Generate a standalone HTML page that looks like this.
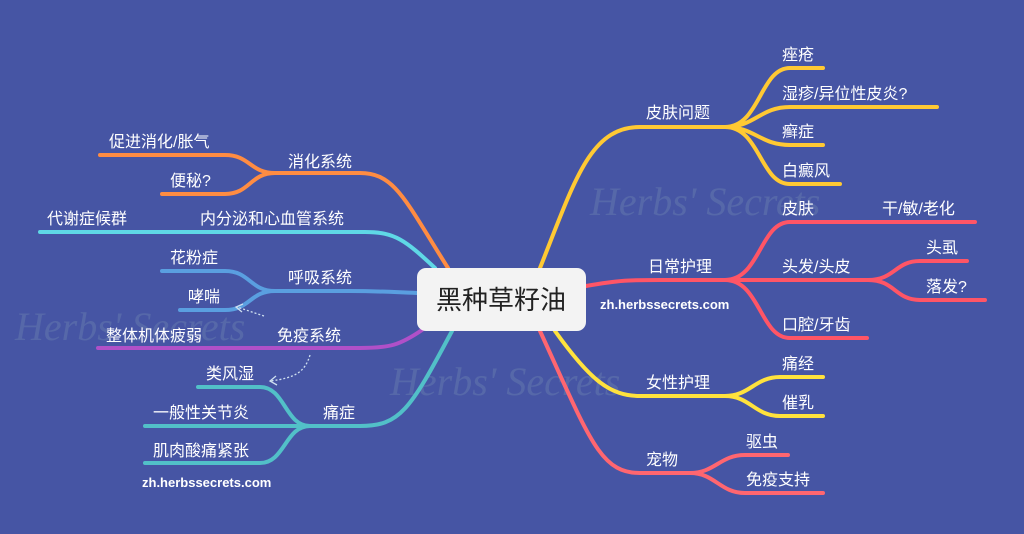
<!DOCTYPE html>
<html><head><meta charset="utf-8"><style>
body{margin:0;background:#4655a4;}
svg{display:block}
text{font-family:"Liberation Sans","Noto Sans CJK SC",sans-serif;font-size:16px;fill:#fff;}
</style></head><body>
<svg width="1024" height="534" viewBox="0 0 1024 534">
<rect width="1024" height="534" fill="#4655a4"/>
<g opacity="0.18">
<text x="590" y="215" style="font-size:40px;fill:#9fc0c0;font-family:'Liberation Serif',serif;font-style:italic">Herbs' Secrets</text>
<text x="15" y="340" style="font-size:40px;fill:#9fc0c0;font-family:'Liberation Serif',serif;font-style:italic">Herbs' Secrets</text>
<text x="390" y="395" style="font-size:40px;fill:#9fc0c0;font-family:'Liberation Serif',serif;font-style:italic">Herbs' Secrets</text>
</g>
<g fill="none" stroke-width="4" stroke-linecap="round">
<g stroke="#ffc933">
<path d="M540,268 C575,180 590,127 640,127 L725,127"/>
<path d="M725,127 C760,127 760,68 790,68 L823,68"/>
<path d="M725,127 C755,127 760,107 790,107 L937,107"/>
<path d="M725,127 C755,127 760,145 790,145 L823,145"/>
<path d="M725,127 C760,127 760,184 790,184 L840,184"/>
</g>
<g stroke="#ff5566">
<path d="M586,286 C620,280 630,280 660,280 L725,280"/>
<path d="M725,280 C760,280 760,222 790,222 L975,222"/>
<path d="M725,280 L868,280"/>
<path d="M868,280 C895,280 895,261 920,261 L967,261"/>
<path d="M868,280 C895,280 895,300 920,300 L985,300"/>
<path d="M725,280 C760,280 760,338 790,338 L867,338"/>
</g>
<g stroke="#ffe23d">
<path d="M555,331 C590,380 610,396 640,396 L725,396"/>
<path d="M725,396 C750,396 755,377 780,377 L823,377"/>
<path d="M725,396 C750,396 755,416 780,416 L823,416"/>
</g>
<g stroke="#ff6670">
<path d="M540,331 C590,440 600,473 640,473 L690,473"/>
<path d="M690,473 C715,473 720,455 745,455 L788,455"/>
<path d="M690,473 C715,473 720,493 745,493 L823,493"/>
</g>
<g stroke="#ff8c42">
<path d="M448,268 C405,200 395,173 360,173 L275,173"/>
<path d="M275,173 C250,173 250,155 225,155 L100,155"/>
<path d="M275,173 C250,173 250,194 225,194 L162,194"/>
</g>
<g stroke="#5fd8e6">
<path d="M435,268 C405,240 395,232 365,232 L40,232"/>
</g>
<g stroke="#5a9fe0">
<path d="M417,293 C390,292 380,291 350,291 L275,291"/>
<path d="M275,291 C250,291 250,271 225,271 L162,271"/>
<path d="M275,291 C250,291 250,310 225,310 L180,310"/>
</g>
<g stroke="#b050c8">
<path d="M422,330 C400,345 390,348 360,348 L98,348"/>
</g>
<g stroke="#52c0c8">
<path d="M452,331 C410,410 400,426 360,426 L145,426"/>
<path d="M310,426 C285,426 285,387 260,387 L198,387"/>
<path d="M310,426 C285,426 285,463 260,463 L145,463"/>
</g>
</g>
<g fill="none" stroke="#cfe0f0" stroke-width="1.3" stroke-dasharray="2,2">
<path d="M264,316 L237,307"/>
<path d="M310,355 C305,372 295,378 270,381"/>
</g>
<g fill="none" stroke="#cfe0f0" stroke-width="1.3">
<path d="M243,304 L236,307 L242,312"/>
<path d="M276,376 L270,381 L277,385"/>
</g>
<rect x="417" y="268" width="169" height="63" rx="9" fill="#f3f3f3"/>
<text x="501" y="309" text-anchor="middle" style="font-size:26px;fill:#222">黑种草籽油</text>
<text x="646" y="118">皮肤问题</text>
<text x="782" y="60">痤疮</text>
<text x="782" y="99">湿疹/异位性皮炎?</text>
<text x="782" y="137">癣症</text>
<text x="782" y="176">白癜风</text>
<text x="648" y="272">日常护理</text>
<text x="782" y="214">皮肤</text>
<text x="882" y="214">干/敏/老化</text>
<text x="782" y="272">头发/头皮</text>
<text x="926" y="253">头虱</text>
<text x="926" y="292">落发?</text>
<text x="782" y="330">口腔/牙齿</text>
<text x="646" y="388">女性护理</text>
<text x="782" y="369">痛经</text>
<text x="782" y="408">催乳</text>
<text x="646" y="465">宠物</text>
<text x="746" y="447">驱虫</text>
<text x="746" y="485">免疫支持</text>
<text x="600" y="309" style="font-size:13px;font-weight:bold">zh.herbssecrets.com</text>
<text x="288" y="167">消化系统</text>
<text x="109" y="147">促进消化/胀气</text>
<text x="170" y="186">便秘?</text>
<text x="47" y="224">代谢症候群</text>
<text x="200" y="224">内分泌和心血管系统</text>
<text x="288" y="283">呼吸系统</text>
<text x="170" y="263">花粉症</text>
<text x="188" y="302">哮喘</text>
<text x="106" y="341">整体机体疲弱</text>
<text x="277" y="341">免疫系统</text>
<text x="323" y="418">痛症</text>
<text x="206" y="379">类风湿</text>
<text x="153" y="418">一般性关节炎</text>
<text x="153" y="456">肌肉酸痛紧张</text>
<text x="142" y="487" style="font-size:13px;font-weight:bold">zh.herbssecrets.com</text>
</svg>
</body></html>
